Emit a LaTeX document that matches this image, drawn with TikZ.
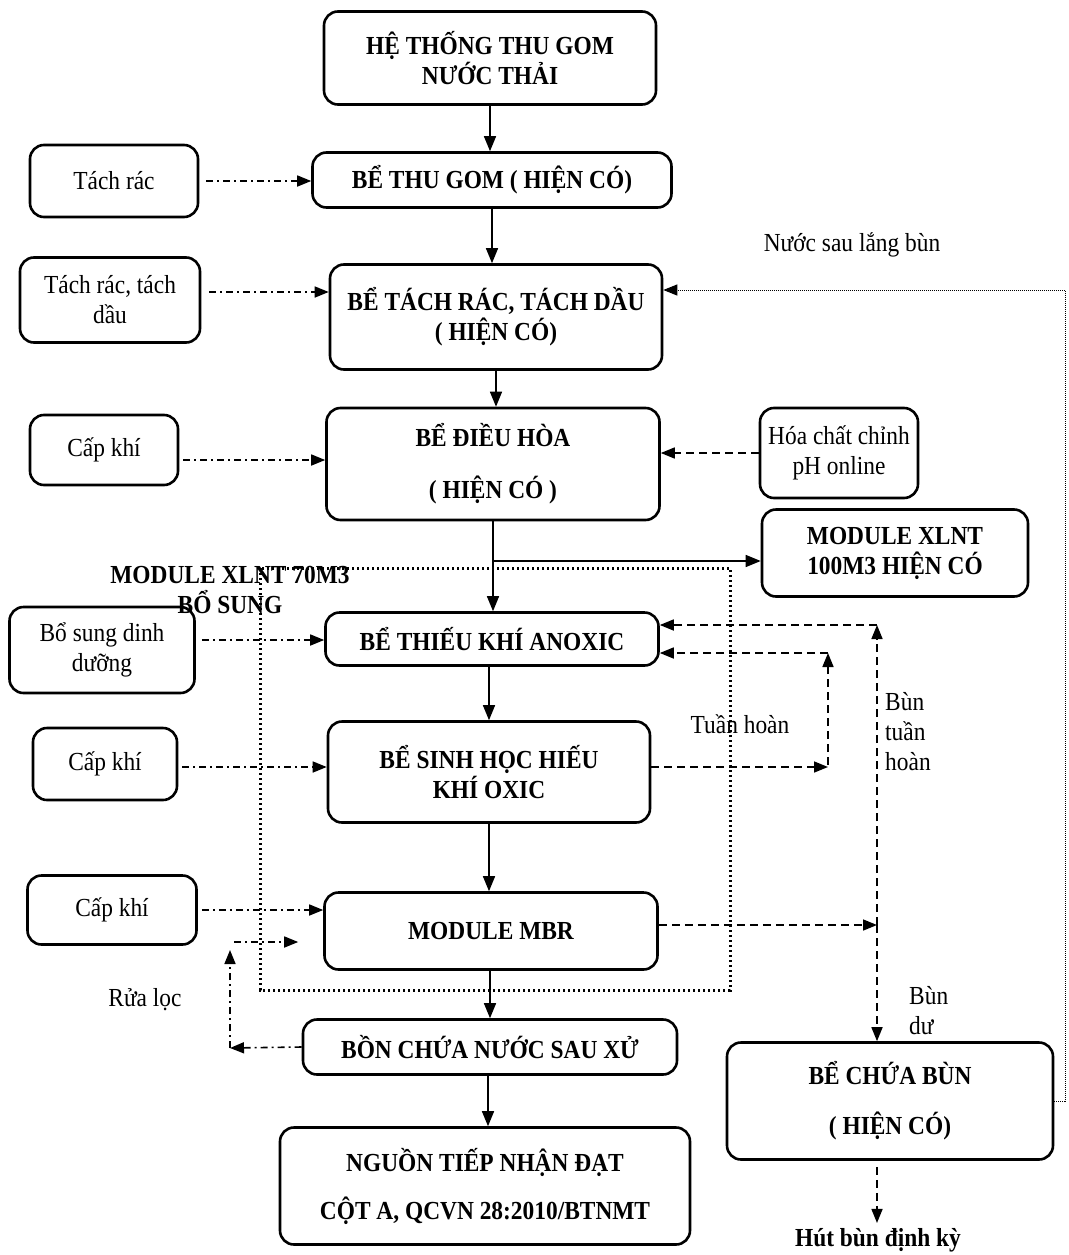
\documentclass[tikz,border=0pt]{standalone}
\usepackage{fontspec}
\setmainfont{Liberation Serif}[FakeStretch=0.9]
\usetikzlibrary{arrows.meta}

\newcommand\sizeA{\fontsize{26}{30}\selectfont}

\tikzset{
  tank/.style={draw, line width=2.6pt, rounded corners=14pt, align=center,
    inner sep=0pt, font=\sizeA\bfseries},
  aux/.style={draw, line width=2.6pt, rounded corners=14pt, align=center,
    inner sep=0pt, font=\sizeA},
  txt/.style={align=center, inner sep=1pt, font=\sizeA},
  flow/.style={line width=1.4pt, -{Triangle[length=15pt,width=12pt]}},
  feed/.style={line width=1.6pt, dash pattern=on 7pt off 4pt on 2pt off 4pt,
    -{Triangle[length=14pt,width=11pt]}},
  back/.style={line width=1.6pt, dash pattern=on 8pt off 5pt,
    -{Triangle[length=14pt,width=11pt]}},
  fine/.style={line width=1pt, dash pattern=on 1pt off 1pt},
  modbox/.style={line width=3pt, dash pattern=on 2.4pt off 2.6pt},
}

\begin{document}
\begin{tikzpicture}[x=1pt, y=-1pt]
    \useasboundingbox (0,0) rectangle (1068,1255);

    % main line
    \node[tank, minimum width=332pt, minimum height=93pt] (he) at (490,58) {HỆ THỐNG THU GOM\\NƯỚC THẢI};
    \node[tank, minimum width=359pt, minimum height=55pt] (thugom) at (492,180) {BỂ THU GOM ( HIỆN CÓ)};
    \node[tank, minimum width=332pt, minimum height=105pt] (tachdau) at (496,317) {BỂ TÁCH RÁC, TÁCH DẦU\\( HIỆN CÓ)};
    \node[tank, minimum width=333pt, minimum height=112pt] (dieuhoa) at (493,464) {BỂ ĐIỀU HÒA\\[22pt]( HIỆN CÓ )};
    \node[tank, minimum width=266pt, minimum height=87pt] (xlnt) at (895,553) {MODULE XLNT\\100M3 HIỆN CÓ};
    \node[tank, minimum width=333pt, minimum height=53pt] (anoxic) at (492,639) {BỂ THIẾU KHÍ ANOXIC};
    \node[tank, minimum width=322pt, minimum height=101pt] (oxic) at (489,772) {BỂ SINH HỌC HIẾU\\KHÍ OXIC};
    \node[tank, minimum width=333pt, minimum height=77pt] (mbr) at (491,931) {MODULE MBR};
    \node[tank, minimum width=374pt, minimum height=55pt] (bonchua) at (490,1047) {BỒN CHỨA NƯỚC SAU XỬ};
    \node[tank, minimum width=410pt, minimum height=117pt] (nguon) at (485,1186) {NGUỒN TIẾP NHẬN ĐẠT\\[18pt]CỘT A, QCVN 28:2010/BTNMT};
    \node[tank, minimum width=326pt, minimum height=117pt] (chuabun) at (890,1101) {BỂ CHỨA BÙN\\[20pt]( HIỆN CÓ)};

    % side inputs
    \node[aux, minimum width=168pt, minimum height=72pt] (rac) at (114,181) {Tách rác};
    \node[aux, minimum width=180pt, minimum height=85pt] (racdau) at (110,300) {Tách rác, tách\\dầu};
    \node[aux, minimum width=148pt, minimum height=70pt] (khi1) at (104,450) {Cấp khí};
    \node[aux, minimum width=158pt, minimum height=90pt] (hoachat) at (839,453) {Hóa chất chỉnh\\pH online};
    \node[aux, minimum width=185pt, minimum height=86pt] (dinhduong) at (102,650) {Bổ sung dinh\\dưỡng};
    \node[aux, minimum width=144pt, minimum height=72pt] (khi2) at (105,764) {Cấp khí};
    \node[aux, minimum width=169pt, minimum height=69pt] (khi3) at (112,910) {Cấp khí};

    % labels
    \node[txt] (lang) at (852,245) {Nước sau lắng bùn};
    \node[txt, font=\sizeA\bfseries] (module) at (230,590) {MODULE XLNT 70M3\\BỔ SUNG};
    \node[txt] (tuan) at (740,724) {Tuần hoàn};
    \node[txt, anchor=west, align=left] (buntuan) at (884,732) {Bùn\\tuần\\hoàn};
    \node[txt, anchor=west, align=left] (bundu) at (908,1011) {Bùn\\dư};
    \node[txt] (rua) at (145,1000) {Rửa lọc};
    \node[txt, font=\sizeA\bfseries] (hut) at (878,1240) {Hút bùn định kỳ};

    % module box
    \draw[modbox] (260,568) rectangle (730,990);

    \coordinate (th) at (828,653);
    \coordinate (bt) at (877,625);
    \coordinate (nr) at (1065,290);
    \coordinate (rl) at (230,1048);
    \coordinate (rt) at (230,942);

    % main flow
    \draw[flow] (he.south) -- (he.south |- thugom.north);
    \draw[flow] (thugom.south) -- (thugom.south |- tachdau.north);
    \draw[flow] (tachdau.south) -- (tachdau.south |- dieuhoa.north);
    \draw[flow] (dieuhoa.south) -- (dieuhoa.south |- anoxic.north);
    \draw[flow] ([yshift=-8pt]dieuhoa.south |- xlnt.west) -- ([yshift=-8pt]xlnt.west);
    \draw[flow] (anoxic.south -| oxic.north) -- (oxic.north);
    \draw[flow] (oxic.south) -- (oxic.south |- mbr.north);
    \draw[flow] (mbr.south -| bonchua.north) -- (bonchua.north);
    \draw[flow] ([xshift=-2pt]bonchua.south) -- ([xshift=-2pt]bonchua.south |- nguon.north);

    % side feeds
    \draw[feed, shorten <=7pt] (rac.east) -- (thugom.west |- rac.east);
    \draw[feed, shorten <=8pt] ([yshift=8pt]racdau.east) -- ([yshift=8pt]tachdau.west |- racdau.east);
    \draw[feed, shorten <=4pt] ([yshift=-10pt]khi1.east) -- ([yshift=-10pt]dieuhoa.west |- khi1.east);
    \draw[back] (hoachat.west) -- (dieuhoa.east |- hoachat.west);
    \draw[feed, shorten <=6pt] ([yshift=10pt]dinhduong.east) -- ([yshift=10pt]anoxic.west |- dinhduong.east);
    \draw[feed, shorten <=4pt] ([yshift=-3pt]khi2.east) -- ([yshift=-3pt]oxic.west |- khi2.east);
    \draw[feed, shorten <=4pt] (khi3.east) -- (mbr.west |- khi3.east);

    % washing loop
    \draw[feed] (bonchua.west) -- (rl);
    \draw[feed, shorten >=8pt] (rl) -- (rt);
    \draw[feed, shorten <=4pt, shorten >=25pt] (rt) -- (mbr.west |- rt);

    % recirculation
    \draw[back] (oxic.east |- 0,767) -- (th |- 0,767);
    \draw[back, shorten <=2pt] (th |- 0,767) -- (th);
    \draw[back] (th) -- (anoxic.east |- th);
    \draw[back] ([yshift=6pt]mbr.east) -- ([yshift=6pt]bt |- mbr.east);
    \draw[back] ([yshift=6pt]bt |- mbr.east) -- (bt);
    \draw[back] (bt) -- (anoxic.east |- bt);
    \draw[back] ([yshift=6pt]bt |- mbr.east) -- (bt |- chuabun.north);
    \draw[back, shorten <=6pt, shorten >=4pt] (bt |- chuabun.south) -- (bt |- hut.north);

    % return water
    \draw[fine] (chuabun.east) -- (chuabun.east -| nr) -- (nr);
    \draw[fine, -{Triangle[length=14pt,width=11pt]}] (nr) -- (tachdau.east |- nr);
\end{tikzpicture}
\end{document}
